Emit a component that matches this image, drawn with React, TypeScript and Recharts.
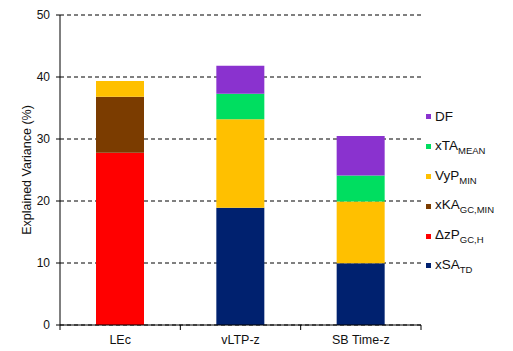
import { Bar, BarChart, CartesianGrid, Legend, XAxis, YAxis } from "recharts";

const categories = ["LEc", "vLTP-z", "SB Time-z"];
const xSA = [0, 18.9, 9.95];
const dzP = [27.8, 0, 0];
const xKA = [9.0, 0, 0];
const vyP = [2.55, 14.3, 9.95];
const xTA = [0, 4.1, 4.2];
const df = [0, 4.5, 6.4];
const yTicks = [0, 10, 20, 30, 40, 50];

const series = [
  { key: "xSA", base: "xSA", sub: "TD", color: "#00216f" },
  { key: "dzP", base: "\u0394zP", sub: "GC,H", color: "#ff0000" },
  { key: "xKA", base: "xKA", sub: "GC,MIN", color: "#7b3c00" },
  { key: "vyP", base: "VyP", sub: "MIN", color: "#ffc000" },
  { key: "xTA", base: "xTA", sub: "MEAN", color: "#00de60" },
  { key: "df", base: "DF", sub: "", color: "#8a32cf" },
];

const data = categories.map((name, i) => ({
  name,
  xSA: xSA[i],
  dzP: dzP[i],
  xKA: xKA[i],
  vyP: vyP[i],
  xTA: xTA[i],
  df: df[i],
}));

const font = "'Liberation Sans', Arial, sans-serif";

const CategoryTick = (props: any) => {
  const { x, y, payload, index } = props;
  const half = payload.offset || 0;
  return (
    <g>
      {index === 0 && (
        <line x1={x - half} x2={x - half} y1={y - 9} y2={y - 4} stroke="#000" />
      )}
      <line x1={x + half} x2={x + half} y1={y - 9} y2={y - 4} stroke="#000" />
      <text x={x} y={y} dy="0.8em" textAnchor="middle" fontSize={12.5} fill="#111" fontFamily={font}>
        {payload.value}
      </text>
    </g>
  );
};

const LegendBox = () => (
  <div style={{ fontFamily: font, fontSize: 13.5, color: "#111" }}>
    {[...series].reverse().map((s) => (
      <div key={s.key} style={{ height: 29.8, display: "flex", alignItems: "center" }}>
        <span style={{ width: 5, height: 5, background: s.color, marginRight: 4, display: "inline-block" }} />
        <span>
          {s.base}
          {s.sub && <sub style={{ fontSize: 9.5 }}>{s.sub}</sub>}
        </span>
      </div>
    ))}
  </div>
);

const App = () => {
  return (
    <div style={{ position: "absolute", left: 0, top: 0, background: "#fff" }}>
      <BarChart
        width={513}
        height={351}
        data={data}
        margin={{ top: 15, right: 92, left: 0, bottom: 0 }}
        barSize={48}
      >
        <CartesianGrid vertical={false} stroke="#000" strokeDasharray="4 3" />
        <XAxis
          dataKey="name"
          height={26}
          axisLine={{ stroke: "#000" }}
          tickLine={false}
          tickSize={5}
          tickMargin={4}
          interval={0}
          tick={<CategoryTick />}
        />
        <YAxis
          width={60}
          domain={[0, 50]}
          ticks={yTicks}
          interval={0}
          axisLine={{ stroke: "#000" }}
          tickLine={{ stroke: "#000" }}
          tickSize={4}
          tickMargin={6}
          tick={{ fontSize: 12, fill: "#111", fontFamily: font }}
          label={{
            value: "Explained Variance (%)",
            angle: -90,
            position: "insideLeft",
            offset: 27,
            style: { textAnchor: "middle", fontSize: 12.5, fill: "#111", fontFamily: font },
          }}
        />
        <Legend
          layout="vertical"
          align="center"
          verticalAlign="middle"
          wrapperStyle={{ left: 426, top: 102, width: 90 }}
          content={<LegendBox />}
        />
        {series.map((s) => (
          <Bar key={s.key} dataKey={s.key} stackId="a" fill={s.color} isAnimationActive={false} />
        ))}
      </BarChart>
    </div>
  );
};

export default App;
